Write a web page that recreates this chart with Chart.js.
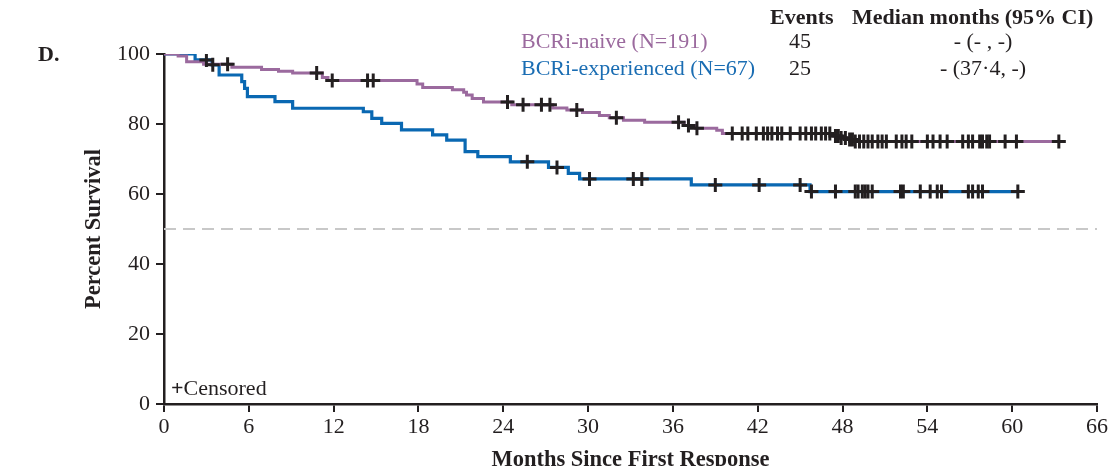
<!DOCTYPE html>
<html>
<head>
<meta charset="utf-8">
<script src="https://cdn.jsdelivr.net/npm/chart.js@4.4.0/dist/chart.umd.min.js"></script>
<style>
  html, body { margin: 0; padding: 0; background: #fff; overflow: hidden; }
  #wrap { position: relative; width: 1110px; height: 466px; overflow: hidden; }
  #grafico { position: absolute; left: 0; top: 0; }
  .txt { position: absolute; font-family: "Liberation Serif", "Times New Roman", serif; font-size: 22px; line-height: 1; white-space: nowrap; color: #231f20; }
  .b { font-weight: bold; }
</style>
</head>
<body>
<div id="wrap">
  <canvas id="grafico" width="1110" height="480"></canvas>
  <div class="txt b" style="left:38px; top:43px;">D.</div>
  <div class="txt b" style="left:770px; top:6px;">Events</div>
  <div class="txt b" style="left:852px; top:6px;">Median months (95% CI)</div>
  <div class="txt" style="left:521px; top:30px; color:#9b6a9e;">BCRi-naive (N=191)</div>
  <div class="txt" style="left:521px; top:57px; color:#1a6db3;">BCRi-experienced (N=67)</div>
  <div class="txt" style="left:789px; top:30px;">45</div>
  <div class="txt" style="left:789px; top:57px;">25</div>
  <div class="txt" style="left:983px; top:30px; transform:translateX(-50%);">- (- , -)</div>
  <div class="txt" style="left:983px; top:57px; transform:translateX(-50%);">- (37·4, -)</div>
  <div class="txt" style="left:171px; top:377px;"><span class="b">+</span>Censored</div>
</div>
<script>
// eixo x / y
const ticksX = [0, 6, 12, 18, 24, 30, 36, 42, 48, 54, 60, 66];
const ticksY = [0, 20, 40, 60, 80, 100];

// BCRi-naive (N=191) - degraus da curva KM
const naiveT = [0, 1.0, 1.6, 2.8, 4.8, 6.9, 8.1, 9.1, 11.2, 11.6, 17.9, 18.3, 20.4, 21.2, 21.4, 21.8, 22.6, 24.6, 27.5, 28.5, 29.6, 30.8, 31.5, 32.5, 34.0, 36.8, 37.6, 39.1, 39.5, 47.4, 47.9, 48.3, 48.8];
const naiveS = [100, 99.4, 97.8, 97.1, 96.2, 95.6, 95.1, 94.6, 93.3, 92.4, 91.4, 90.4, 89.8, 89.1, 88.3, 87.3, 86.3, 85.5, 84.6, 84.0, 83.3, 82.4, 81.8, 81.1, 80.5, 79.6, 78.8, 78.2, 77.3, 76.6, 76.0, 75.6, 75.0];
const naiveFim = 63.3;
const naiveCens = [4.5, 10.8, 11.9, 14.4, 14.8, 24.3, 25.4, 26.7, 27.3, 29.2, 32.0, 36.4, 37.1, 37.7, 40.2, 40.9, 41.3, 41.9, 42.4, 42.7, 43.0, 43.4, 43.7, 44.3, 45.0, 45.4, 45.8, 46.1, 46.5, 46.8, 47.1, 47.5, 47.7, 47.9, 48.2, 48.5, 48.7, 48.9, 49.2, 49.5, 49.8, 50.1, 50.5, 50.8, 51.1, 51.8, 52.2, 52.5, 52.9, 54.0, 54.4, 54.9, 55.4, 56.5, 56.9, 57.2, 57.7, 57.9, 58.2, 58.4, 59.5, 60.3, 63.3];

// BCRi-experienced (N=67)
const expT = [0, 2.2, 3.4, 3.9, 5.5, 5.7, 5.9, 7.85, 9.1, 14.1, 14.7, 15.4, 16.8, 19.0, 20.0, 21.3, 22.2, 24.5, 27.2, 28.6, 29.4, 37.3, 45.7];
const expS = [100, 98.3, 96.9, 94.0, 92.1, 90.2, 87.8, 86.4, 84.5, 83.5, 81.6, 80.2, 78.3, 76.9, 75.4, 72.1, 70.7, 69.2, 67.6, 65.9, 64.3, 62.6, 60.7];
const expFim = 60.4;
const expCens = [3.0, 3.45, 25.7, 27.8, 30.1, 33.2, 33.8, 39.0, 42.1, 45.0, 45.8, 47.5, 48.9, 49.1, 49.4, 49.6, 49.8, 50.1, 52.1, 52.3, 53.5, 54.2, 54.7, 55.0, 56.9, 57.2, 57.6, 57.9, 60.4];

const corNaive = '#9b6a9e';
const corExp = '#0a68b2';
const corPreto = '#231f20';

function degraus(T, S, fim) {
  const pts = T.map((t, i) => ({ x: t, y: S[i] }));
  pts.push({ x: fim, y: S[S.length - 1] });
  return pts;
}

// valor da curva no tempo t (para posicionar as cruzes)
function sobrevida(T, S, t) {
  let s = S[0];
  for (let i = 0; i < T.length; i++) {
    if (T[i] <= t) s = S[i];
  }
  return s;
}

function cruzes(T, S, cens) {
  return cens.map(t => ({ x: t, y: sobrevida(T, S, t) }));
}

const fonteSerif = "'Liberation Serif', 'Times New Roman', serif";

const ctx = document.getElementById('grafico').getContext('2d');
const grafico = new Chart(ctx, {
  type: 'scatter',
  data: {
    datasets: [
      {
        data: [{ x: 0, y: 50 }, { x: 66, y: 50 }],
        showLine: true,
        borderColor: '#c8c8c8',
        borderWidth: 2,
        borderDash: [12, 7],
        pointRadius: 0,
        order: 3
      },
      {
        label: 'BCRi-naive (N=191)',
        data: degraus(naiveT, naiveS, naiveFim),
        showLine: true,
        stepped: 'before',
        borderColor: corNaive,
        borderWidth: 3,
        pointRadius: 0,
        order: 2
      },
      {
        label: 'BCRi-experienced (N=67)',
        data: degraus(expT, expS, expFim),
        showLine: true,
        stepped: 'before',
        borderColor: corExp,
        borderWidth: 3.2,
        pointRadius: 0,
        order: 2
      },
      // cruzes (censurados) por cima das linhas
      {
        data: cruzes(naiveT, naiveS, naiveCens),
        showLine: false,
        pointStyle: 'cross',
        pointRadius: 7,
        borderColor: corPreto,
        pointBorderWidth: 3,
        order: 0
      },
      {
        data: cruzes(expT, expS, expCens),
        showLine: false,
        pointStyle: 'cross',
        pointRadius: 7,
        borderColor: corPreto,
        pointBorderWidth: 3,
        order: 0
      }
    ]
  },
  options: {
    responsive: false,
    animation: false,
    devicePixelRatio: 1,
    layout: { padding: { left: 0, top: 54, right: 13, bottom: 0 } },
    plugins: { legend: { display: false }, tooltip: { enabled: false } },
    scales: {
      x: {
        type: 'linear',
        min: 0,
        max: 66,
        afterFit: (s) => { s.height = 76; },
        afterBuildTicks: (s) => { s.ticks = ticksX.map(v => ({ value: v })); },
        ticks: { color: corPreto, padding: 2, maxRotation: 0, autoSkip: false, font: { family: fonteSerif, size: 22 } },
        grid: { drawOnChartArea: false, drawTicks: true, tickLength: 8, color: corPreto, lineWidth: 2 },
        border: { display: true, color: corPreto, width: 2.5 },
        title: {
          display: true,
          text: 'Months Since First Response',
          color: corPreto,
          font: { family: fonteSerif, size: 22.5, weight: 'bold' },
          padding: { top: 0, bottom: 6 }
        }
      },
      y: {
        type: 'linear',
        min: 0,
        max: 100,
        afterFit: (s) => { s.width = 164; },
        afterBuildTicks: (s) => { s.ticks = ticksY.map(v => ({ value: v })); },
        ticks: { color: corPreto, padding: 6, font: { family: fonteSerif, size: 22 } },
        grid: { drawOnChartArea: false, drawTicks: true, tickLength: 8, color: corPreto, lineWidth: 2 },
        border: { display: true, color: corPreto, width: 2.5 },
        title: {
          display: true,
          text: 'Percent Survival',
          color: corPreto,
          font: { family: fonteSerif, size: 22.5, weight: 'bold' },
          padding: { top: 81, bottom: 0 }
        }
      }
    }
  }
});
</script>
</body>
</html>
